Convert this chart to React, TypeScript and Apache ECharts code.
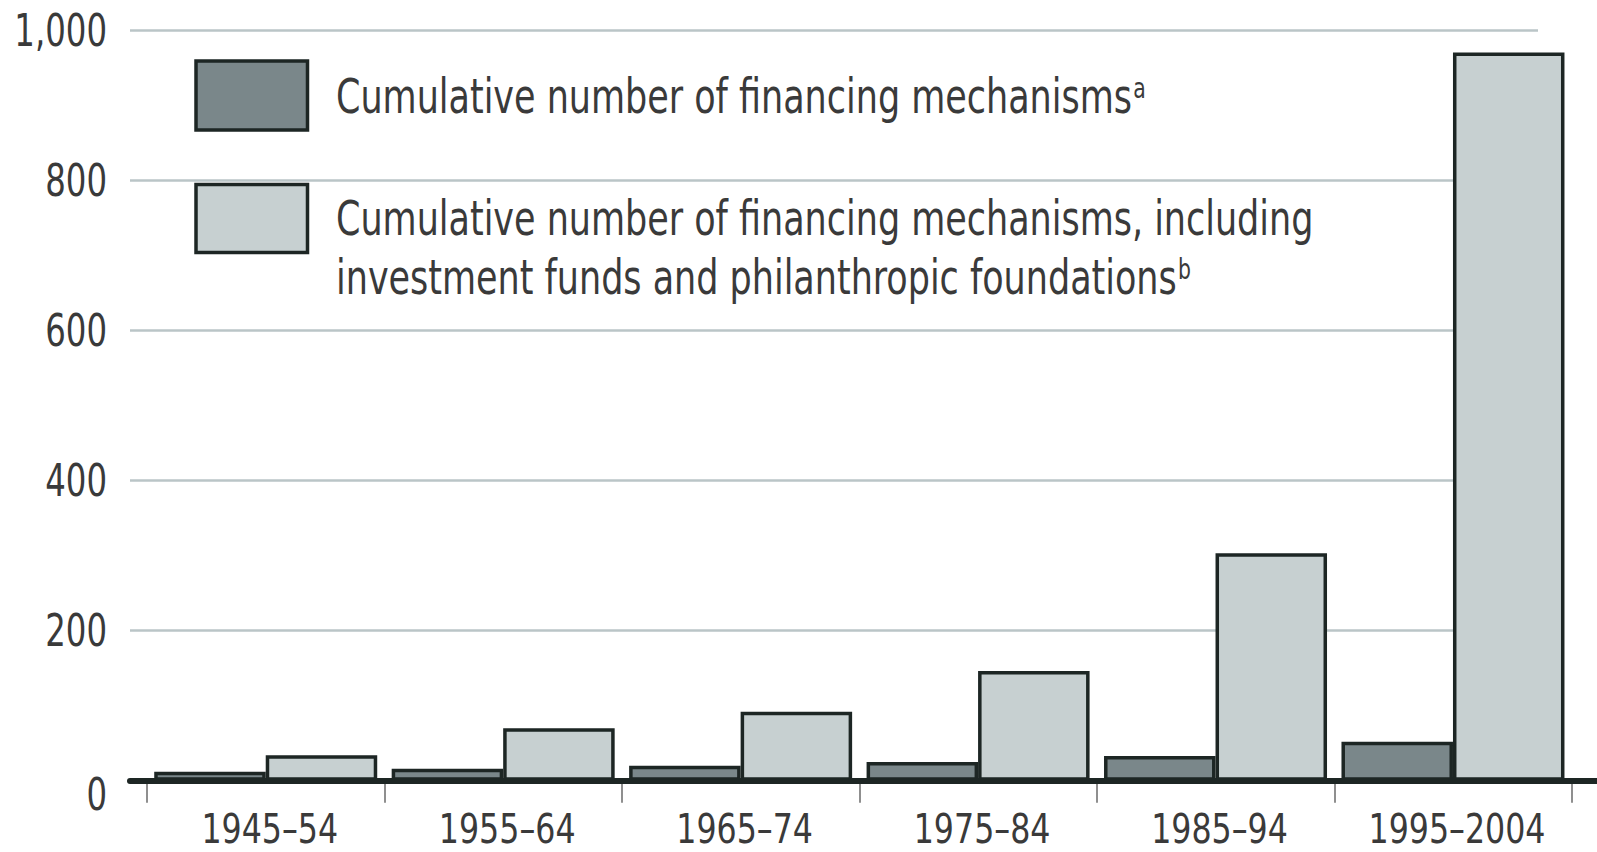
import { useEffect, useRef } from 'react';
import * as echarts from 'echarts';

// ---- data ----
const categories = ['1945–54', '1955–64', '1965–74', '1975–84', '1985–94', '1995–2004'];
const mechanisms = [12, 16, 20, 25, 33, 52];
const mechanismsIncl = [34, 70, 92, 146, 303, 970];
const yMin = 0;
const yMax = 1000;
const yInterval = 200;
const yTickLabels = ['0', '200', '400', '600', '800', '1,000'];
const seriesNames = [
  'Cumulative number of financing mechanisms',
  'Cumulative number of financing mechanisms, including investment funds and philanthropic foundations',
];
const footnoteMarks = ['a', 'b'];

const FONT = '"DejaVu Sans Condensed", "DejaVu Sans", sans-serif';
const TEXT = '#3a3a3a';
const BORDER = '#1d2624';
const DARK = '#7a878a';
const LIGHT = '#c7d0d1';
const GRID = '#bac5c7';

const W = 1597;
const H = 852;
const TOP = 30;
const BOTTOM = H - 780.7;
// horizontal squeeze to imitate the condensed typeface of the original
const X_SQUEEZE = 0.88;
const Y_SQUEEZE = 0.8;
const LEGEND_SQUEEZE = 0.81;

function legendLabel(i: number) {
  const name = seriesNames[i].replace(', including ', ', including\n');
  return name + '{sup|' + footnoteMarks[i] + '}';
}

const supStyle = {
  fontSize: 28,
  fontFamily: FONT,
  fill: TEXT,
  verticalAlign: 'top',
  padding: [8, 0, 0, 1],
};

const legendTextStyle = (i: number) => ({
  text: legendLabel(i),
  fontSize: 48,
  lineHeight: 58.5,
  fontFamily: FONT,
  fill: TEXT,
  verticalAlign: 'top',
  align: 'left',
  rich: { sup: supStyle },
});

export default function App() {
  const ref = useRef<HTMLDivElement>(null);
  useEffect(() => {
    if (!ref.current) return;
    const chart = echarts.init(ref.current, undefined, { renderer: 'svg' });
    chart.setOption({
      animation: false,
      backgroundColor: '#ffffff',
      grid: [
        { left: 130, right: W - 1538, top: TOP, bottom: BOTTOM, outerBoundsMode: 'none', containLabel: false },
        { left: 147, right: W - 1571.7, top: TOP, bottom: BOTTOM, outerBoundsMode: 'none', containLabel: false },
        { left: 130, right: 0, top: TOP, bottom: BOTTOM, outerBoundsMode: 'none', containLabel: false },
      ],
      xAxis: [
        { gridIndex: 0, type: 'value', show: false },
        {
          gridIndex: 1,
          type: 'category',
          data: categories,
          axisLine: { show: false },
          axisTick: { show: true, interval: 0, length: 22, lineStyle: { color: '#6a6a6a', width: 1.5 } },
          axisLabel: {
            interval: 0,
            margin: 31.8,
            fontSize: 40,
            lineHeight: 32,
            fontFamily: FONT,
            color: TEXT,
            padding: [0, 0, 0, 8],
          },
        },
        {
          gridIndex: 2,
          type: 'value',
          min: 0,
          max: 1,
          z: 5,
          axisLine: { show: true, onZero: false, lineStyle: { color: BORDER, width: 6 } },
          axisTick: { show: false },
          axisLabel: { show: false },
          splitLine: { show: false },
        },
      ],
      yAxis: [
        {
          gridIndex: 0,
          type: 'value',
          min: yMin,
          max: yMax,
          interval: yInterval,
          axisLine: { show: false },
          axisTick: { show: false },
          splitLine: { show: true, lineStyle: { color: GRID, width: 2.5 } },
          axisLabel: {
            margin: 23,
            fontSize: 45,
            fontFamily: FONT,
            color: TEXT,
            formatter: (v: number) => (v === 0 ? '{z|0}' : echarts.format.addCommas(v)),
            rich: { z: { fontSize: 45, fontFamily: FONT, color: TEXT, padding: [28, 0, 0, 0] } },
          },
        },
        { gridIndex: 1, type: 'value', min: yMin, max: yMax, interval: yInterval, show: false },
        { gridIndex: 2, type: 'value', min: 0, max: 1, show: false },
      ],
      graphic: [
        {
          type: 'rect',
          silent: true,
          shape: { x: 196, y: 61, width: 111.5, height: 69 },
          style: { fill: DARK, stroke: BORDER, lineWidth: 3.5 },
        },
        {
          type: 'rect',
          silent: true,
          shape: { x: 196, y: 184.5, width: 111.5, height: 68 },
          style: { fill: LIGHT, stroke: BORDER, lineWidth: 3.5 },
        },
        {
          type: 'group',
          x: 336,
          y: 0,
          scaleX: LEGEND_SQUEEZE,
          silent: true,
          children: [
            { type: 'text', x: 0, y: 66.25, style: legendTextStyle(0) },
            { type: 'text', x: 0, y: 189, style: legendTextStyle(1) },
          ],
        },
      ],
      series: [
        {
          name: seriesNames[0],
          type: 'bar',
          xAxisIndex: 1,
          yAxisIndex: 1,
          data: mechanisms,
          barWidth: 111.5,
          barGap: '0%',
          itemStyle: { color: DARK, borderColor: BORDER, borderWidth: 3.5 },
          emphasis: { disabled: true },
        },
        {
          name: seriesNames[1],
          type: 'bar',
          xAxisIndex: 1,
          yAxisIndex: 1,
          data: mechanismsIncl,
          barWidth: 111.5,
          barGap: '0%',
          itemStyle: { color: LIGHT, borderColor: BORDER, borderWidth: 3.5 },
          emphasis: { disabled: true },
        },
      ],
    });

    // narrow the axis labels so they resemble the condensed original typeface
    const svg = ref.current.querySelector('svg');
    if (svg) {
      svg.querySelectorAll('text').forEach((t) => {
        const s = t.textContent || '';
        let k = 0;
        if (categories.includes(s)) k = X_SQUEEZE;
        else if (yTickLabels.includes(s)) k = Y_SQUEEZE;
        if (k) {
          const len = (t as SVGTextElement).getComputedTextLength();
          if (len > 0) {
            t.setAttribute('textLength', String(len * k));
            t.setAttribute('lengthAdjust', 'spacingAndGlyphs');
          }
        }
      });
    }
    return () => chart.dispose();
  }, []);
  return (
    <div
      ref={ref}
      style={{ position: 'fixed', left: 0, top: 0, width: W, height: H, background: '#fff' }}
    />
  );
}
